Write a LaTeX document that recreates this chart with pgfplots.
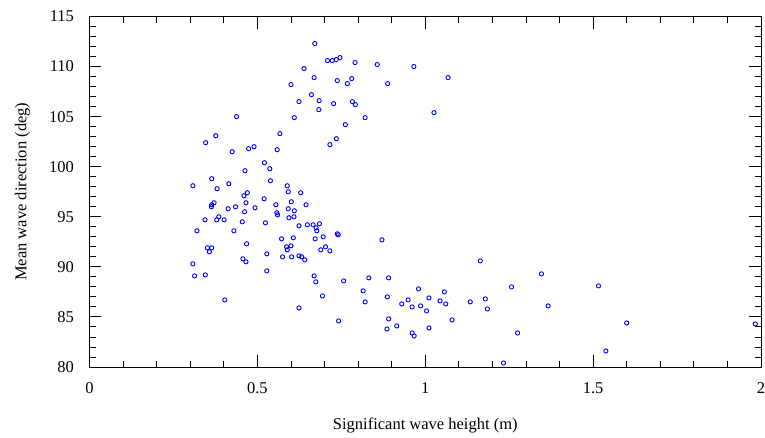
\documentclass[border=0pt]{standalone}
\usepackage{pgfplots}
\pgfplotsset{compat=1.18}
\usepackage{fontspec}
\setmainfont{Liberation Serif}
\begin{document}
\begin{tikzpicture}
\useasboundingbox (-89.5pt,-70pt) rectangle (675.5pt,367pt);
\begin{axis}[
  scale only axis,
  width=671.5pt, height=350.5pt,
  xmin=0, xmax=2, ymin=80, ymax=115,
  xtick={0,0.5,...,2}, ytick={80,85,...,115},
  minor x tick num=4, minor y tick num=4,
  tick align=inside, tick pos=both,
  major tick length=12pt, minor tick length=6.5pt,
  axis line style={line width=1pt, black},
  every tick/.style={black, line width=0.9pt},
  /pgf/number format/assume math mode=true,
  tick label style={font=\fontsize{16.5}{20}\selectfont},
  xticklabel style={yshift=-12pt},
  yticklabel style={xshift=-12pt},
  label style={font=\fontsize{16.5}{20}\selectfont},
  xlabel={Significant wave height (m)},
  ylabel={Mean wave direction (deg)},
  xlabel style={at={(axis description cs:0.5,0)}, anchor=base, yshift=-62pt},
  ylabel style={at={(axis description cs:0,0.5)}, anchor=base, yshift=63pt},
  clip=false,
]
\addplot[only marks, mark=o, mark size=2.1pt, blue, mark options={line width=0.9pt}] coordinates {
(0.671,112.3) (0.709,110.6) (0.723,110.6) (0.735,110.7) (0.746,110.9) (0.791,110.4)
(0.857,110.2) (0.966,110.0) (1.068,108.9) (0.639,109.8) (0.600,108.2) (0.669,108.9)
(0.738,108.6) (0.781,108.8) (0.768,108.3) (0.888,108.3) (0.661,107.2) (0.624,106.5)
(0.684,106.6) (0.727,106.3) (0.783,106.5) (0.792,106.2) (0.683,105.7) (0.610,104.9)
(0.821,104.9) (1.026,105.4) (0.762,104.2) (0.735,102.8) (0.716,102.2) (0.438,105.0)
(0.376,103.1) (0.346,102.4) (0.567,103.3) (0.425,101.5) (0.474,101.8) (0.490,102.0)
(0.559,101.7) (0.521,100.4) (0.463,99.6) (0.537,99.8) (0.539,98.6) (0.364,98.8)
(0.308,98.1) (0.415,98.3) (0.380,97.8) (0.589,98.1) (0.592,97.5) (0.629,97.4)
(0.470,97.4) (0.460,97.1) (0.520,96.8) (0.371,96.4) (0.364,96.2) (0.363,96.0)
(0.466,96.4) (0.601,96.5) (0.645,96.2) (0.413,95.8) (0.435,96.0) (0.493,95.9)
(0.555,96.2) (0.592,95.8) (0.610,95.6) (0.462,95.5) (0.558,95.4) (0.560,95.2)
(0.594,94.9) (0.609,95.0) (0.344,94.7) (0.385,95.0) (0.379,94.7) (0.401,94.7)
(0.455,94.5) (0.524,94.4) (0.624,94.1) (0.649,94.2) (0.666,94.2) (0.685,94.3)
(0.675,93.9) (0.677,93.6) (0.320,93.6) (0.430,93.6) (0.738,93.3) (0.741,93.2)
(0.696,93.0) (0.607,92.9) (0.572,92.8) (0.672,92.8) (0.468,92.3) (0.600,92.1)
(0.587,92.0) (0.589,91.7) (0.351,91.9) (0.364,91.9) (0.357,91.5) (0.689,91.7)
(0.703,92.0) (0.716,91.6) (0.871,92.7)
(0.308,90.3) (0.313,89.1) (0.345,89.2) (0.457,90.8) (0.466,90.5) (0.528,91.3)
(0.528,89.6) (0.575,91.0) (0.602,91.0) (0.624,91.1) (0.632,91.0) (0.641,90.7)
(0.669,89.1) (0.674,88.5) (0.694,87.1) (0.624,85.9) (0.403,86.7) (0.757,88.6)
(0.742,84.6) (0.832,88.9) (0.891,88.9) (0.815,87.6) (0.821,86.5) (0.887,87.0)
(0.891,84.8) (0.886,83.8) (0.915,84.1)
(1.164,90.6) (1.346,89.3) (1.257,88.0) (1.366,86.1) (1.275,83.4) (1.233,80.4)
(0.980,87.8) (1.011,86.9) (1.057,87.5) (0.949,86.7) (0.930,86.3) (0.961,86.0)
(0.986,86.1) (1.004,85.6) (1.044,86.6) (1.061,86.3) (1.134,86.5) (1.179,86.8)
(1.185,85.8) (1.080,84.7) (1.011,83.9) (0.961,83.4) (0.967,83.1)
(1.516,88.1) (1.600,84.4) (1.538,81.6) (1.983,84.3)
};
\end{axis}
\end{tikzpicture}
\end{document}
